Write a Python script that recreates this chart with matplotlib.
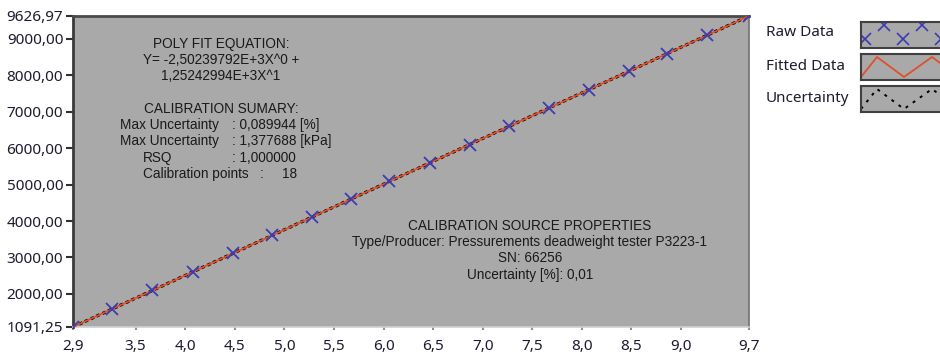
# calibration chart (LabVIEW style graph)
import matplotlib
matplotlib.use('Agg')
import matplotlib.pyplot as plt
import numpy as np

# raw calibration points: x = signal, y = pressure [kPa]
raw_x = [2.8694, 3.26, 3.67, 4.08, 4.48, 4.88, 5.28, 5.67, 6.06,
         6.47, 6.87, 7.27, 7.67, 8.07, 8.47, 8.86, 9.26, 9.6847]
raw_y = [1091.25, 1580, 2095, 2605, 3110, 3610, 4110, 4600, 5090,
         5600, 6100, 6600, 7105, 7605, 8105, 8595, 9095, 9626.97]

# poly fit coefficients from the text on the chart
coef0 = -2502.39792
coef1 = 1252.42994
max_unc_kpa = 1.377688

x_ticks = [2.8694, 3.5, 4.0, 4.5, 5.0, 5.5, 6.0, 6.5, 7.0, 7.5, 8.0, 8.5, 9.0, 9.6847]
x_labels = ['2,9', '3,5', '4,0', '4,5', '5,0', '5,5', '6,0', '6,5', '7,0',
            '7,5', '8,0', '8,5', '9,0', '9,7']
y_ticks = [1091.25, 2000, 3000, 4000, 5000, 6000, 7000, 8000, 9000, 9626.97]
y_labels = ['1091,25', '2000,00', '3000,00', '4000,00', '5000,00', '6000,00',
            '7000,00', '8000,00', '9000,00', '9626,97']

legend_names = ['Raw Data', 'Fitted Data', 'Uncertainty']

W, H = 940, 356
fig = plt.figure(figsize=(W / 100, H / 100), dpi=100)
fig.patch.set_facecolor('white')

ax = fig.add_axes([73 / W, 1 - 327 / H, 676 / W, 311 / H])
ax.set_facecolor('#a9a9a9')

fx = np.array(raw_x)
fit_y = coef0 + coef1 * fx

ax.plot(fx, fit_y + max_unc_kpa, color='black', lw=2.2, ls=(0, (1.2, 3)), zorder=2)
ax.plot(fx, fit_y - max_unc_kpa, color='black', lw=2.2, ls=(2, (1.2, 3)), zorder=2)
ax.plot(fx, fit_y, color='#e0502a', lw=1.3, zorder=3)
ax.plot(raw_x, raw_y, ls='none', marker='x', ms=9, mew=1.3, color='#3c3cb0', zorder=4)

ax.set_xlim(raw_x[0], raw_x[-1])
ax.set_ylim(raw_y[0], raw_y[-1])

ax.set_xticks(x_ticks)
ax.set_xticklabels(x_labels)
ax.set_yticks(y_ticks)
ax.set_yticklabels(y_labels)

for lab in ax.get_xticklabels() + ax.get_yticklabels():
    lab.set_fontfamily('Noto Sans')
    lab.set_fontsize(11)
    lab.set_color('#1c1c30')

ax.tick_params(axis='y', length=5, width=1.5, color='#303030', pad=2)
ax.tick_params(axis='x', length=2, width=1.5, color='#909090', pad=7)

ax.spines['left'].set_color('#3a3a3a')
ax.spines['left'].set_linewidth(2)
ax.spines['top'].set_color('#4a4a4a')
ax.spines['top'].set_linewidth(2)
ax.spines['right'].set_color('#707070')
ax.spines['right'].set_linewidth(1.2)
ax.spines['bottom'].set_color('#d0d0d0')
ax.spines['bottom'].set_linewidth(1.2)

# annotations
tf = dict(family='Liberation Sans', fontsize=9.8, color='#1a1a1a')
def ftxt(px, py, s, ha='center'):
    fig.text(px / W, 1 - py / H, s, ha=ha, va='center', **tf)

ftxt(221, 44, 'POLY FIT EQUATION:')
ftxt(221, 60, 'Y= -2,50239792E+3X^0 +')
ftxt(221, 76, '1,25242994E+3X^1')
ftxt(221, 109, 'CALIBRATION SUMARY:')
ftxt(120, 125, 'Max Uncertainty', ha='left')
ftxt(232, 125, ': 0,089944 [%]', ha='left')
ftxt(120, 141, 'Max Uncertainty', ha='left')
ftxt(232, 141, ': 1,377688 [kPa]', ha='left')
ftxt(143, 158, 'RSQ', ha='left')
ftxt(232, 158, ': 1,000000', ha='left')
ftxt(143, 174, 'Calibration points', ha='left')
ftxt(260, 174, ':', ha='left')
ftxt(282, 174, '18', ha='left')

ftxt(530, 226, 'CALIBRATION SOURCE PROPERTIES')
ftxt(530, 242, 'Type/Producer: Pressurements deadweight tester P3223-1')
ftxt(530, 258, 'SN: 66256')
ftxt(530, 275, 'Uncertainty [%]: 0,01')

# legend swatches (drawn in pixel units of each small box)
lab_y = [33, 67, 98]
box_top = [22, 54, 86]
for i, name in enumerate(legend_names):
    fig.text(766 / W, 1 - lab_y[i] / H, name, ha='left', va='center',
             family='Noto Sans', fontsize=11, color='#1c1c30')
    sw = fig.add_axes([861 / W, 1 - (box_top[i] + 26) / H, 90 / W, 26 / H])
    sw.set_facecolor('#a9a9a9')
    sw.set_xticks([])
    sw.set_yticks([])
    for s in sw.spines.values():
        s.set_color('#404040')
        s.set_linewidth(1.5)
    sw.set_xlim(0, 90)
    sw.set_ylim(0, 26)
    if i == 0:
        sw.plot([4, 23, 42, 61, 80], [9, 23, 9, 23, 9], ls='none', marker='x',
                ms=8, mew=1.2, color='#3c3cb0')
    else:
        zx = [0, 16, 43, 71, 98]
        zy = [3, 23, 3, 23, 3]
        if i == 1:
            sw.plot(zx, zy, color='#e0502a', lw=1.3)
        else:
            sw.plot(zx, zy, color='black', lw=1.4, ls=(0, (1.5, 3)))

fig.savefig('out.png', dpi=100, facecolor='white')
